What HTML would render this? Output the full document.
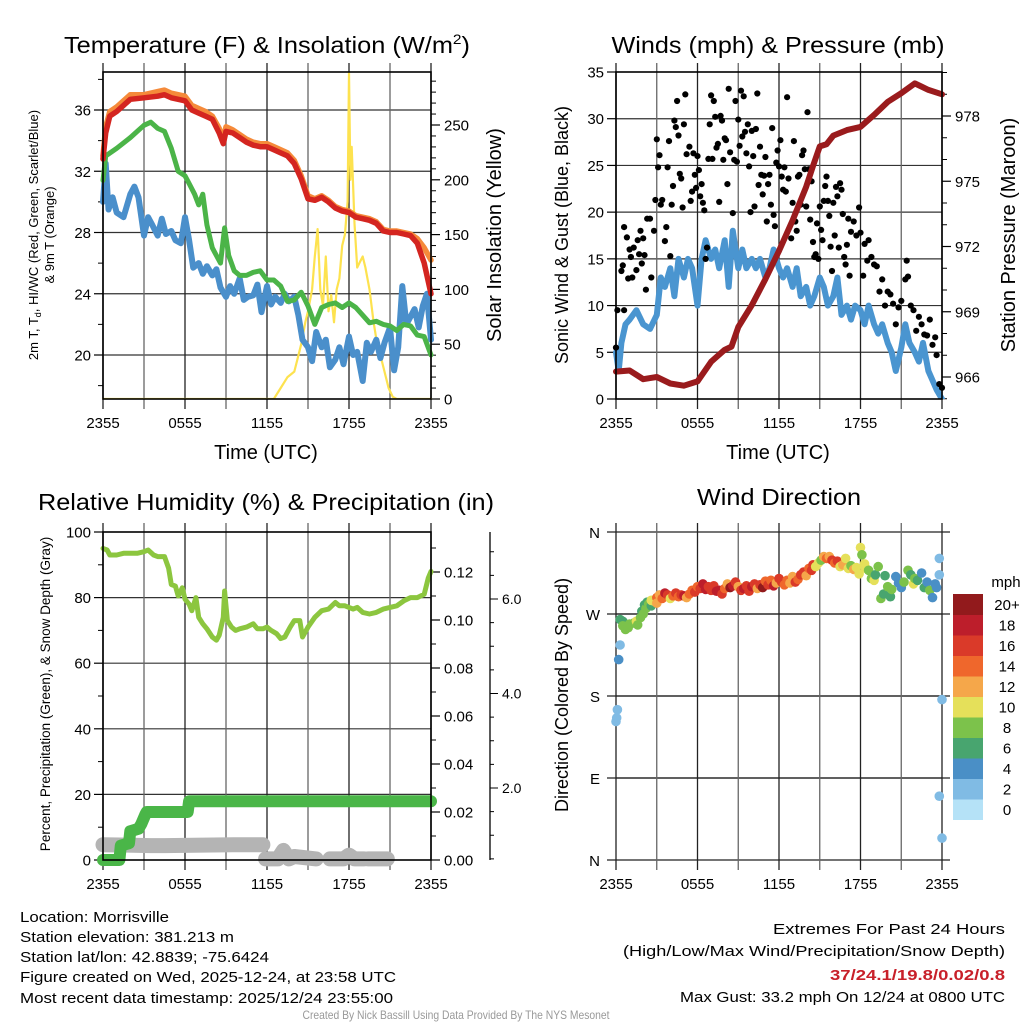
<!DOCTYPE html>
<html><head><meta charset="utf-8"><style>
html,body{margin:0;padding:0;background:#fff;}
svg{display:block;font-family:"Liberation Sans",sans-serif;}
</style></head><body>
<svg id="root" width="1024" height="1024" viewBox="0 0 1024 1024" xmlns="http://www.w3.org/2000/svg">
<rect x="0" y="0" width="1024" height="1024" fill="#fff"/>
<text x="267" y="53" font-size="23" text-anchor="middle" textLength="406" lengthAdjust="spacingAndGlyphs">Temperature (F) &amp; Insolation (W/m<tspan font-size="14" dy="-9">2</tspan><tspan dy="9">)</tspan></text>
<text x="778" y="53" font-size="23" text-anchor="middle" textLength="333" lengthAdjust="spacingAndGlyphs">Winds (mph) &amp; Pressure (mb)</text>
<text x="266" y="510" font-size="23" text-anchor="middle" textLength="456" lengthAdjust="spacingAndGlyphs">Relative Humidity (%) &amp; Precipitation (in)</text>
<text x="779" y="505" font-size="23" text-anchor="middle" textLength="164" lengthAdjust="spacingAndGlyphs">Wind Direction</text>

<text x="266" y="459" font-size="20" text-anchor="middle">Time (UTC)</text>
<text x="778" y="459" font-size="20" text-anchor="middle">Time (UTC)</text>

<text transform="translate(38,235) rotate(-90)" font-size="13" text-anchor="middle">2m T, T<tspan font-size="9" dy="3">d</tspan><tspan dy="-3">, HI/WC (Red, Green, Scarlet/Blue)</tspan></text>
<text transform="translate(54,235) rotate(-90)" font-size="13" text-anchor="middle">&amp; 9m T (Orange)</text>
<text transform="translate(501,235) rotate(-90)" font-size="20" text-anchor="middle">Solar Insolation (Yellow)</text>
<text transform="translate(568,235) rotate(-90)" font-size="18" text-anchor="middle">Sonic Wind &amp; Gust (Blue, Black)</text>
<text transform="translate(1015,235) rotate(-90)" font-size="20" text-anchor="middle">Station Pressure (Maroon)</text>
<text transform="translate(50,694) rotate(-90)" font-size="13.5" text-anchor="middle">Percent, Precipitation (Green), &amp; Snow Depth (Gray)</text>
<text transform="translate(568,695) rotate(-90)" font-size="18" text-anchor="middle">Direction (Colored By Speed)</text>

<g font-size="15">
<text x="20" y="922" textLength="149" lengthAdjust="spacingAndGlyphs">Location: Morrisville</text>
<text x="20" y="942" textLength="214" lengthAdjust="spacingAndGlyphs">Station elevation: 381.213 m</text>
<text x="20" y="962" textLength="249" lengthAdjust="spacingAndGlyphs">Station lat/lon: 42.8839; -75.6424</text>
<text x="20" y="982" textLength="376" lengthAdjust="spacingAndGlyphs">Figure created on Wed, 2025-12-24, at 23:58 UTC</text>
<text x="20" y="1003" textLength="373" lengthAdjust="spacingAndGlyphs">Most recent data timestamp: 2025/12/24 23:55:00</text>
</g>
<g font-size="15" text-anchor="end">
<text x="1005" y="934" textLength="232" lengthAdjust="spacingAndGlyphs">Extremes For Past 24 Hours</text>
<text x="1005" y="956" textLength="382" lengthAdjust="spacingAndGlyphs">(High/Low/Max Wind/Precipitation/Snow Depth)</text>
<text x="1005" y="980" font-weight="bold" fill="#c8202a" textLength="175" lengthAdjust="spacingAndGlyphs">37/24.1/19.8/0.02/0.8</text>
<text x="1005" y="1002" textLength="325" lengthAdjust="spacingAndGlyphs">Max Gust: 33.2 mph On 12/24 at 0800 UTC</text>
</g>
<text x="456" y="1019" font-size="12" fill="#999" text-anchor="middle" textLength="307" lengthAdjust="spacingAndGlyphs">Created By Nick Bassill Using Data Provided By The NYS Mesonet</text>
</svg>
<script>
// ---------- data ----------
const timeLabels = ["2355","0555","1155","1755","2355"];
// Panel 1
const tempT = [0,0.2,0.5,1,1.5,2,3,4,4.5,5,6,6.5,7,7.5,8,8.5,8.8,9,9.5,10,10.5,11,11.5,12,12.5,13,13.5,14,14.5,15,15.5,16,16.5,17,17.5,18,18.5,19,19.5,20,20.5,21,21.5,22,22.5,23,23.5,24];
const tempRed = [32.8,34.5,35.6,35.9,36.3,36.7,36.8,36.9,37.0,36.8,36.6,36.0,35.8,35.6,35.4,34.5,33.8,34.6,34.5,34.2,33.9,33.7,33.6,33.6,33.4,33.2,33.0,32.5,31.5,30.2,30.1,30.3,30.0,29.6,29.4,29.3,29.0,28.9,28.8,28.6,28.1,28.0,28.0,27.9,27.8,27.3,26.0,24.0];
const tempOrange = [33.0,34.9,35.9,36.2,36.6,37.0,37.0,37.2,37.3,37.1,36.9,36.3,36.1,35.9,35.6,34.8,34.1,34.9,34.7,34.4,34.1,33.9,33.8,33.8,33.6,33.4,33.2,32.7,31.7,30.4,30.2,30.4,30.1,29.7,29.5,29.4,29.1,29.0,28.9,28.7,28.2,28.1,28.1,28.0,27.9,27.6,27.0,26.2];
const dewT = [0,0.2,1,2,3,3.5,4,4.5,5,5.5,6,6.3,6.7,7,7.3,7.6,8,8.3,8.6,8.9,9.2,9.6,10,10.5,11,11.5,12,12.5,13,13.5,14,14.5,15,15.5,16,16.5,17,17.5,18,18.5,19,19.5,20,20.5,21,21.5,22,22.5,23,23.5,24];
const dewV = [31.4,33.0,33.5,34.2,35.0,35.2,34.8,34.6,33.5,32.0,31.7,31.2,30.5,29.8,30.5,28.5,27.0,26.5,26.0,28.3,26.5,25.5,25.2,25.2,25.4,25.5,24.9,24.9,24.5,23.5,23.6,24.1,23.2,22.0,23.1,23.3,23.4,23.1,23.4,23.1,22.6,22.1,22.2,22.0,21.9,21.6,22.0,21.9,21.3,21.2,20.0];
const chillT = [0,0.2,0.4,0.7,1,1.5,2,2.3,2.6,3,3.3,3.6,4,4.3,4.6,5,5.3,5.7,6,6.3,6.6,7,7.3,7.6,8,8.3,8.6,9,9.3,9.6,10,10.3,10.6,11,11.3,11.6,12,12.3,12.6,13,13.3,13.6,14,14.3,14.6,15,15.3,15.6,16,16.3,16.6,17,17.3,17.6,18,18.3,18.6,19,19.3,19.6,20,20.3,20.6,21,21.3,21.6,21.9,22.2,22.5,22.8,23.1,23.4,23.7,24];
const chillV = [30,32.5,29.5,30.3,29.3,29.0,30.5,31.0,30.3,27.8,29.0,28.5,27.8,28.9,27.9,28.1,27.5,27.3,29.0,27.5,25.7,26.0,25.3,25.8,25.2,25.6,24.4,23.8,24.5,24.0,25.0,23.6,23.8,23.9,24.6,22.8,24.5,23.3,23.8,23.4,24.0,23.5,23.8,22.6,21.0,20.5,19.6,21.5,20.5,21.0,19.2,19.7,20.5,19.4,21.2,20.0,20.2,18.3,20.8,20.2,21.0,19.8,20.8,21.8,19.0,20.5,24.5,22.0,22.5,23.0,21.8,23.2,24.0,21.0];
const solarT = [0,12.5,13,13.5,14,14.2,14.5,14.8,15,15.3,15.5,15.7,15.9,16.1,16.3,16.5,16.7,16.9,17.1,17.3,17.5,17.7,17.9,18.0,18.1,18.2,18.4,18.6,18.8,19.0,19.2,19.5,19.8,20,20.3,20.6,20.9,21.2,21.5,24];
const solarV = [0,0,10,20,25,35,50,70,80,100,130,155,100,85,130,80,95,70,100,110,140,150,180,298,200,230,160,120,125,130,120,100,70,55,40,25,10,2,0,0];
// Panel 2
const windT = [0,0.2,0.4,0.7,1,1.5,2,2.5,3,3.3,3.6,4,4.3,4.6,5,5.3,5.6,6,6.3,6.6,7,7.3,7.6,8,8.3,8.6,9,9.3,9.6,10,10.3,10.6,11,11.3,11.6,12,12.3,12.6,13,13.3,13.6,14,14.3,14.6,15,15.3,15.6,16,16.3,16.6,17,17.3,17.6,18,18.3,18.6,19,19.3,19.6,20,20.3,20.6,21,21.3,21.6,22,22.3,22.6,23,23.3,23.6,24];
const windV = [5,3,6,8,8.5,9.5,8,7.5,9,13,12,14,11,15,13,15,14,10,15,17,15,16,14,17,12,18,14,16,14,15,14,15,13,14,16,14,13,14,12,14,11,12,10,11,13,12,10,11,13,9,10,8.5,10,9.5,8,10,8,7,8,6,5,3,5.5,8,6,5,4,6,3,2,1,0];
const gustT = [0,0.1,0.6,0.4,0.5,0.6,0.8,0.9,1.0,1.1,1.2,1.3,1.5,1.6,1.7,1.8,1.9,2.0,2.1,2.2,2.3,2.5,2.6,2.8,2.9,3.0,3.1,3.2,3.3,3.4,3.6,3.7,3.8,3.9,4.0,4.1,4.2,4.3,4.4,4.5,4.6,4.7,4.8,4.9,5.0,5.1,5.2,5.4,5.5,5.6,5.7,5.8,5.9,6.0,6.1,6.2,6.3,6.4,6.5,6.6,6.7,6.8,6.9,7.0,7.1,7.2,7.3,7.4,7.5,7.6,7.7,7.8,7.9,8.0,8.1,8.2,8.3,8.4,8.6,8.7,8.8,8.9,9.0,9.1,9.2,9.3,9.4,9.5,9.6,9.7,9.8,9.9,10.0,10.1,10.2,10.3,10.4,10.5,10.6,10.7,10.8,10.9,11.0,11.1,11.2,11.3,11.4,11.5,11.6,11.7,11.8,11.9,12.0,12.1,12.2,12.3,12.4,12.5,12.6,12.7,12.9,13.0,13.1,13.2,13.3,13.4,13.5,13.6,13.7,13.8,13.9,14.0,14.1,14.2,14.3,14.4,14.5,14.6,14.7,14.8,14.9,15.0,15.1,15.2,15.3,15.4,15.5,15.6,15.7,15.8,15.9,16.0,16.1,16.2,16.3,16.4,16.5,16.6,16.7,16.8,16.9,17.0,17.1,17.2,17.3,17.5,17.7,17.9,18.0,18.2,18.3,18.5,18.6,18.8,19.0,19.2,19.4,19.6,19.8,20.0,20.2,20.4,20.6,20.8,21.0,21.3,21.4,21.5,21.7,21.9,22.1,22.3,22.5,22.7,22.9,23.1,23.3,23.5,23.6,23.8,24];
const gustV = [5.5,9.5,9.5,13.7,14.3,18.4,17.3,12.9,16,15.2,13,16.2,13.8,17,15.5,18,14.5,17.2,15.4,11.7,19.3,19.3,13,18,21.3,27.8,24.8,26.1,20.8,21.3,16.9,18.4,24.8,27.6,15.3,20.8,22.8,29.8,29.1,31.9,28.2,24.1,23.6,20.5,29.4,32.6,26.2,27,21.2,22.2,26.3,24,22.6,26,24.5,21.7,23,21,20.2,15,16.2,25.7,29.4,32.5,25.7,31.9,30.2,26.9,27.3,21.1,30.3,29.8,25.6,27.9,27.7,23,33.2,26.4,19.9,25.6,31.9,25.4,29.9,27.1,33,28.1,32.4,28.6,26.3,29.4,24.9,20,28.7,26,20.6,28.9,32.7,22.9,27,24,21.9,23.9,25.9,19,23,24,20.8,29,19.7,18.5,25.3,26.6,24.9,27.7,23.8,22.4,24.8,22.2,32.3,23.6,17.2,21,27.6,19,18,23.8,24,20.8,26.1,26.6,24.6,20.6,30.7,24.6,19.2,23.3,16.8,15.2,15.5,18.8,15,20.6,18.1,17,21.2,22.8,23.8,21.2,19.6,16.3,13.7,21,17.5,22.7,21.7,16.2,23.1,22.4,19.8,15.2,14.4,16.5,19.3,13.2,17.9,19,17.5,20.5,17.8,13.2,16.6,14.8,17,15.2,14.4,14.2,11.5,12.8,10,11.5,11.2,10.2,8,9.8,10.5,12.8,14.8,13.1,10,9.5,7.3,8.8,8,6.9,6.8,8.5,5.8,6.6,4.7,1.6,1.2];
const presT = [0,1,1.5,2,2.5,3,4,5,6,7,8,8.5,9,10,11,12,13,14,14.5,15,15.5,16,17,18,19,20,21,22,22.5,23,24];
const presV = [966.25,966.3,966.1,965.9,965.95,966.0,965.7,965.6,965.8,966.7,967.25,967.4,968.3,969.3,970.5,971.8,973.2,974.75,975.7,976.6,976.7,977.1,977.35,977.5,978.05,978.65,979.05,979.5,979.35,979.2,979.0];
// Panel 3
const rhT = [0,0.3,0.5,1,1.5,2,2.5,3,3.3,3.7,4,4.5,4.8,5,5.3,5.5,5.8,6,6.3,6.5,6.8,7,7.3,7.6,8,8.3,8.5,8.8,8.9,9.1,9.4,9.7,10,10.5,11,11.3,11.7,12,12.3,12.7,13,13.3,13.7,14,14.4,14.6,15,15.5,16,16.5,17,17.3,17.7,18,18.3,18.6,19,19.5,20,20.5,21,21.5,22,22.5,23,23.5,23.8,24];
const rhV = [95,94.5,93,93,93.5,93.5,93.5,94,94.5,93,92.5,92.5,89,84,83.5,80.5,83,79.5,78,76,80,74,72,70.5,68,67,68.5,74,82,73,71,70,70.5,71,72,70.5,70.5,71,70,69,67.5,68,71,73,73,68,71,74,76,76.5,78.5,77.5,77.5,77,76.5,77,75.5,75,75.5,76.5,77,77.5,79,80,80,81,86,88];
const precipT = [0,1.2,1.3,1.9,2.0,2.6,2.8,3.1,3.2,6.2,6.3,24];
const precipV = [0,0,0.006,0.007,0.012,0.013,0.015,0.019,0.020,0.020,0.0245,0.0245];
const snowSegT = [[0,3.5,4.5,9.5,10.5,11.7],[11.9,12.8,13.2,13.6,14.0,15.6],[16.6,17.6,18.0,18.4,19.1],[19.4,20.8]];
const snowSegV = [[0.8,0.78,0.78,0.8,0.8,0.8],[0.5,0.5,0.68,0.5,0.55,0.5],[0.5,0.5,0.58,0.5,0.5],[0.5,0.5]];
// Panel 4
const dirT = [0,0.05,0.1,0.2,0.3,0.3,0.5,0.5,0.7,0.9,1.0,1.3,1.5,1.6,1.8,1.9,2.0,2.1,2.2,2.3,2.4,2.6,2.6,2.8,3.0,3.0,3.2,3.4,3.6,3.8,4.0,4.2,4.4,4.6,4.8,5.0,5.2,5.4,5.6,5.8,6.0,6.2,6.4,6.6,6.8,7.0,7.2,7.4,7.6,7.8,8.0,8.2,8.4,8.6,8.8,9.0,9.2,9.4,9.6,9.8,10.0,10.2,10.4,10.6,10.8,11.0,11.2,11.4,11.6,11.8,12.0,12.2,12.4,12.6,12.8,13.0,13.2,13.4,13.6,13.8,14.0,14.2,14.4,14.5,14.7,14.9,15.1,15.3,15.5,15.7,15.9,16.1,16.3,16.5,16.7,16.9,17.1,17.3,17.5,17.7,17.9,18.0,18.1,18.3,18.4,18.6,18.8,19.0,19.1,19.3,19.5,19.7,19.8,20.0,20.2,20.3,20.6,20.8,21.0,21.2,21.5,21.7,21.9,22.0,22.2,22.5,22.7,22.9,23.1,23.3,23.5,23.6,23.8,23.8,24,23.8,24];
const dirV = [152,156,165,220,236,264,262,257,253,255,259,260,262,258,266,273,270,280,276,283,281,279,285,284,288,282,291,287,293,291,287,290,293,289,291,290,288,292,296,294,300,298,303,297,300,296,301,295,296,292,298,303,299,301,305,300,296,298,301,295,300,303,298,302,299,306,302,307,301,304,309,305,302,307,304,311,305,308,313,316,312,320,318,324,322,326,329,333,331,333,329,326,328,322,324,331,320,323,319,321,314,343,335,325,320,318,309,307,313,322,287,292,312,300,289,297,311,304,299,305,318,313,303,309,307,315,299,305,296,288,303,299,331,313,176,70,24];
const dirS = [1,1,1,3,2,6,6,8,8,8,7,8,9,8,7,6,8,6,7,5,8,6,9,10,14,12,11,13,17,15,10,13,15,14,16,17,12,14,13,16,13,16,18,18,16,16,15,17,18,15,14,12,19,17,16,12,15,17,16,16,17,16,12,15,19,14,15,13,17,12,15,16,13,14,12,11,15,14,15,15,12,14,15,16,10,10,8,11,13,11,15,13,15,10,11,9,9,8,11,9,10,10,8,10,9,8,8,9,6,7,8,6,5,7,6,7,4,4,3,8,8,5,10,7,5,4,5,4,7,4,4,4,1,1,1,1,1];
const speedColors = ["#b5e2f7","#80bbe4","#4a8fc6","#48a56f","#7cc24b","#e5e05a","#f5a74a","#ef672c","#da3a29","#bd1e2b","#921a1c"];
const speedLabels = ["0","2","4","6","8","10","12","14","16","18","20+"];

// ---------- helpers ----------
const NS = "http://www.w3.org/2000/svg";
const root = document.getElementById("root");
function el(tag, parent){ const e = document.createElementNS(NS, tag); parent.appendChild(e); return e; }
function grp(parent){ return el("g", parent); }

const P1 = {x0:103,x1:431,y0:72,y1:399};
const P2 = {x0:616,x1:942,y0:72,y1:399};
const P3 = {x0:103,x1:431,y0:532,y1:860};
const P4 = {x0:616,x1:942,y0:532,y1:860};
function xT(p,t){ return p.x0 + t/24*(p.x1-p.x0); }
const yTemp = v => 110 + (36-v)*15.3125;
const ySol = v => 399 - v*1.096;
const yWind = v => 399 - v*327/35;
const yPres = v => 116 + (978-v)*21.75;
const yPct = v => 860 - v*3.28;
const yIn = v => 860 - v*2400;
const ySnow = v => 882.5 - v*47.25;
const yDir = v => 860 - v*328/360;

function line(parent,x1,y1,x2,y2,stroke,w){
  const l = el("line",parent);
  l.setAttribute("x1",x1); l.setAttribute("y1",y1); l.setAttribute("x2",x2); l.setAttribute("y2",y2);
  l.setAttribute("stroke",stroke); l.setAttribute("stroke-width",w);
  return l;
}
function txt(parent,x,y,s,size,anchor){
  const t = el("text",parent);
  t.setAttribute("x",x); t.setAttribute("y",y); t.setAttribute("font-size",size);
  t.setAttribute("text-anchor",anchor); t.textContent = s;
  return t;
}
function path(parent,ts,vs,p,yf,stroke,w){
  let d="";
  for(let i=0;i<ts.length;i++){ d += (i?"L":"M")+xT(p,ts[i]).toFixed(1)+","+yf(vs[i]).toFixed(1); }
  const e = el("path",parent);
  e.setAttribute("d",d); e.setAttribute("fill","none"); e.setAttribute("stroke",stroke);
  e.setAttribute("stroke-width",w); e.setAttribute("stroke-linejoin","round"); e.setAttribute("stroke-linecap","round");
  return e;
}

function timeAxis(p, name){
  const g = grp(root);
  
  
  for(let h=0;h<=24;h+=3){
    const x = xT(p,h);
    const gl = line(g,x,p.y0-9,x,p.y1+10,(h%6===0)?"#222":"#666",1.3);
    
    
  }
  for(let i=0;i<timeLabels.length;i++){
    const t = txt(g,xT(p,i*6),p.y1+29,timeLabels[i],15,"middle");
    
    
  }
}
function hGrid(p, vals, yf, name){
  const g = grp(root);
  
  
  vals.forEach(v=>{ line(g,p.x0,yf(v),p.x1,yf(v),"#333",1.2); });
}
function yAxis(p, majors, minors, labels, yf, side, name){
  const g = grp(root);
  
  
  const x = side==="left"?p.x0:p.x1, dir = side==="left"?-1:1;
  majors.forEach((v,i)=>{
    line(g,x,yf(v),x+dir*9,yf(v),"#000",1.2);
    const t = txt(g, side==="left"? x-12 : x+13, yf(v)+5.5, labels[i], 15, side==="left"?"end":"start");
    
    
  });
  minors.forEach(v=>{ line(g,x,yf(v),x+dir*5,yf(v),"#000",1); });
}
function frame(p,name){
  const r = el("rect",root);
  r.setAttribute("x",p.x0); r.setAttribute("y",p.y0); r.setAttribute("width",p.x1-p.x0); r.setAttribute("height",p.y1-p.y0);
  r.setAttribute("fill","none"); r.setAttribute("stroke","#000"); r.setAttribute("stroke-width",1.6);
  
  
}
function clip(p,id){
  const cp = el("clipPath",root); cp.setAttribute("id",id);
  const r = el("rect",cp);
  r.setAttribute("x",p.x0-6); r.setAttribute("y",p.y0); r.setAttribute("width",p.x1-p.x0+12); r.setAttribute("height",p.y1-p.y0);
}
function range(a,b,s){ const r=[]; for(let v=a; v<=b+1e-9; v+=s) r.push(+v.toFixed(4)); return r; }

// ---------- Panel 1 ----------
hGrid(P1,[20,24,28,32,36],yTemp,"p1");
timeAxis(P1,"p1");
yAxis(P1,[20,24,28,32,36],[18,22,26,30,34,38],["20","24","28","32","36"],yTemp,"left","p1-left-axis");
yAxis(P1,[0,50,100,150,200,250],range(10,290,10).filter(v=>v%50),["0","50","100","150","200","250"],ySol,"right","p1-right-axis");
clip(P1,"c1");
{
  const g = grp(root); g.setAttribute("clip-path","url(#c1)");
  
  
  let e;
  e = path(g,solarT,solarV,P1,ySol,"#fde24f",2.2);
  
  
  e = path(g,chillT,chillV,P1,yTemp,"#4a8fcb",6);
  
  
  e = path(g,dewT,dewV,P1,yTemp,"#4bb448",5);
  
  
  e = path(g,tempT,tempOrange,P1,yTemp,"#f58a3a",5.5);
  
  
  e = path(g,tempT,tempRed,P1,yTemp,"#d42520",5.5);
  
  
}
frame(P1,"p1-plot-frame");

// ---------- Panel 2 ----------
hGrid(P2,[5,10,15,20,25,30],yWind,"p2");
timeAxis(P2,"p2");
yAxis(P2,[0,5,10,15,20,25,30,35],[],["0","5","10","15","20","25","30","35"],yWind,"left","p2-left-axis");
yAxis(P2,[966,969,972,975,978],range(965,980,1).filter(v=>(v-966)%3),["966","969","972","975","978"],yPres,"right","p2-right-axis");
clip(P2,"c2");
{
  const g = grp(root); g.setAttribute("clip-path","url(#c2)");
  
  
  let e = path(g,windT,windV,P2,yWind,"#4a95d0",6);
  
  
  const gg = grp(g);
  
  
  for(let i=0;i<gustT.length;i++){
    const c = el("circle",gg);
    c.setAttribute("cx",xT(P2,gustT[i]).toFixed(1)); c.setAttribute("cy",yWind(gustV[i]).toFixed(1)); c.setAttribute("r",3.1); c.setAttribute("fill","#000");
    
    
  }
  e = path(g,presT,presV,P2,yPres,"#9a1b1d",6);
  
  
}
frame(P2,"p2-plot-frame");

// ---------- Panel 3 ----------
hGrid(P3,[20,40,60,80],yPct,"p3");
timeAxis(P3,"p3");
yAxis(P3,[0,20,40,60,80,100],[10,30,50,70,90],["0","20","40","60","80","100"],yPct,"left","p3-left-axis");
yAxis(P3,[0,0.02,0.04,0.06,0.08,0.10,0.12],[0.01,0.03,0.05,0.07,0.09,0.11,0.13],["0.00","0.02","0.04","0.06","0.08","0.10","0.12"],yIn,"right","p3-right-axis");
{
  const g = grp(root);
  
  
  line(g,490,P3.y0,490,P3.y1,"#000",1.3);
  const majors=[2,4,6], labs=["2.0","4.0","6.0"];
  range(0.5,7.5,0.5).forEach(v=>{ const y=ySnow(v); if(y>=P3.y0-1 && y<=P3.y1+1) line(g,490,y,(v%2===0)?498:494,y,"#000",1); });
  majors.forEach((v,i)=>{
    const t = txt(g,502,ySnow(v)+5,labs[i],14,"start");
    
    
  });
}
{
  const g = grp(root);
  
  
  for(let s=0;s<snowSegT.length;s++){
    const e = path(g,snowSegT[s],snowSegV[s],P3,ySnow,"#b4b4b4",15);
    
    
  }
  let e = path(g,precipT,precipV,P3,yIn,"#4ab648",12);
  
  
  e = path(g,rhT,rhV,P3,yPct,"#8cc63f",5);
  
  
}
frame(P3,"p3-plot-frame");

// ---------- Panel 4 ----------
{
  const g = grp(root);
  
  
  [90,180,270].forEach(v=>line(g,P4.x0,yDir(v),P4.x1,yDir(v),"#222",1.2));
  [0,90,180,270,360].forEach(v=>line(g,P4.x0-9,yDir(v),P4.x1+8,yDir(v),"#222",1.3));
  const dl=["N","E","S","W","N"];
  [0,90,180,270,360].forEach((v,i)=>{
    const t = txt(g,P4.x0-16,yDir(v)+6,dl[i],15,"end");
    
    
  });
}
timeAxis(P4,"p4");
{
  const g = grp(root);
  
  
  for(let i=0;i<dirT.length;i++){
    const c = el("circle",g);
    const idx = Math.min(10, Math.round(dirS[i]/2));
    c.setAttribute("cx",xT(P4,dirT[i]).toFixed(1)); c.setAttribute("cy",yDir(dirV[i]).toFixed(1)); c.setAttribute("r",4.8);
    c.setAttribute("fill",speedColors[idx]);
    
    
  }
}
{
  const g = grp(root);
  
  
  const top=594, bh=20.5;
  for(let i=0;i<11;i++){
    const r = el("rect",g);
    const y = top + (10-i)*bh;
    r.setAttribute("x",953); r.setAttribute("y",y.toFixed(1)); r.setAttribute("width",30); r.setAttribute("height",bh+0.5);
    r.setAttribute("fill",speedColors[i]);
    
    
    const t = txt(g,1007,y+bh/2+5.5,speedLabels[i],15,"middle");
    
    
  }
  const u = txt(g,1006,587,"mph",15,"middle");
  
  
}
</script>
</body></html>
